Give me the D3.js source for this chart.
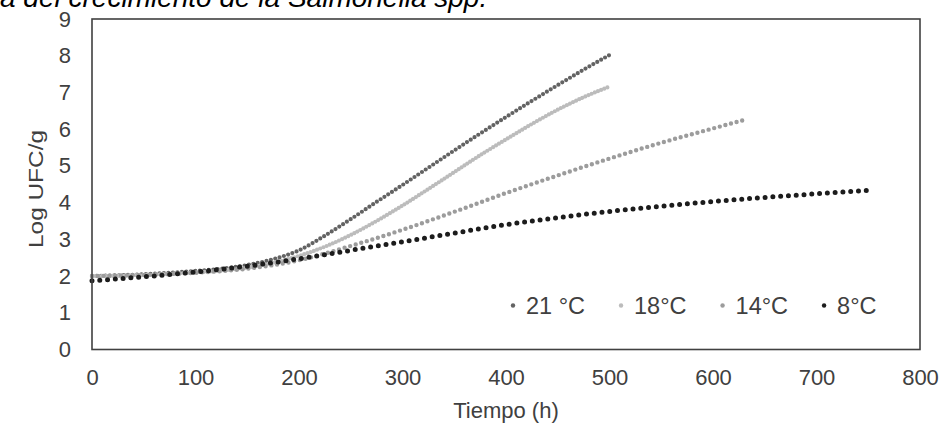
<!DOCTYPE html>
<html lang="es">
<head>
  <meta charset="UTF-8" />
  <title>Crecimiento de Salmonella spp.</title>
  <script src="https://d3js.org/d3.v7.min.js"></script>
  <style>
    body {
      margin: 0;
      background: #ffffff;
      overflow: hidden;
    }
    text {
      font-family: 'Liberation Sans', Arial, sans-serif;
      fill: #404040;
    }
    .title {
      font-style: italic;
      fill: #000000;
    }
  </style>
</head>
<body>
  <div id="chart"></div>

  <script>
    // readings (time in h, Log UFC/g)
    const times21 = [0, 25, 50, 75, 100, 125, 150, 175, 200, 225, 250, 275, 300, 325, 350, 375, 400, 425, 450, 475, 500];
    const log21 = [2.00, 2.02, 2.05, 2.09, 2.14, 2.20, 2.30, 2.46, 2.70, 3.10, 3.55, 4.02, 4.48, 4.95, 5.42, 5.88, 6.33, 6.77, 7.20, 7.62, 8.02];

    const times18 = [0, 25, 50, 75, 100, 125, 150, 175, 200, 225, 250, 275, 300, 325, 350, 375, 400, 425, 450, 475, 500];
    const log18 = [2.00, 2.01, 2.03, 2.06, 2.10, 2.15, 2.23, 2.36, 2.55, 2.80, 3.12, 3.50, 3.92, 4.37, 4.83, 5.29, 5.72, 6.14, 6.53, 6.87, 7.16];

    const times14 = [0, 50, 100, 150, 200, 250, 300, 350, 400, 450, 500, 550, 600, 630];
    const log14 = [2.00, 2.03, 2.09, 2.20, 2.43, 2.82, 3.26, 3.75, 4.26, 4.74, 5.20, 5.63, 6.02, 6.25];

    const times8 = [0, 50, 100, 150, 200, 250, 300, 350, 400, 450, 500, 550, 600, 650, 700, 750];
    const log8 = [1.87, 1.98, 2.11, 2.27, 2.47, 2.70, 2.93, 3.17, 3.40, 3.59, 3.76, 3.90, 4.03, 4.14, 4.24, 4.33];

    const seriesNames = ["21 °C", "18°C", "14°C", "8°C"];
    const xTicks = [0, 100, 200, 300, 400, 500, 600, 700, 800];
    const yTicks = [0, 1, 2, 3, 4, 5, 6, 7, 8, 9];

    const width = 946;
    const height = 423;
    const margin = { top: 19, right: 26, bottom: 73.5, left: 92 };

    // how each series is drawn: colour, dot size, dot spacing
    const styles = [
      { color: "#636363", size: 4.2, gap: 4.5 },
      { color: "#bcbcbc", size: 4.2, gap: 3.4 },
      { color: "#9c9c9c", size: 4.4, gap: 5.8 },
      { color: "#1c1c1c", size: 5.0, gap: 7.8 }
    ];

    const series = [
      { name: seriesNames[0], values: times21.map((t, i) => [t, log21[i]]) },
      { name: seriesNames[1], values: times18.map((t, i) => [t, log18[i]]) },
      { name: seriesNames[2], values: times14.map((t, i) => [t, log14[i]]) },
      { name: seriesNames[3], values: times8.map((t, i) => [t, log8[i]]) }
    ];

    const svg = d3.select("#chart").append("svg")
      .attr("width", width)
      .attr("height", height);

    const x = d3.scaleLinear()
      .domain([0, 800])
      .range([margin.left, width - margin.right]);

    const y = d3.scaleLinear()
      .domain([0, 9])
      .range([height - margin.bottom, margin.top]);

    // title line, cut off at the top like in the source
    svg.append("text")
      .attr("class", "title")
      .attr("x", 0)
      .attr("y", 7)
      .style("font-size", "28px")
      .text("a del crecimiento de la Salmonella spp.");

    // axes (labels only)
    const xAxis = svg.append("g")
      .attr("transform", `translate(0,${height - margin.bottom})`)
      .call(d3.axisBottom(x).tickValues(xTicks).tickSize(0).tickPadding(20));

    const yAxis = svg.append("g")
      .attr("transform", `translate(${margin.left},0)`)
      .call(d3.axisLeft(y).tickValues(yTicks).tickSize(0).tickPadding(21));

    [xAxis, yAxis].forEach(g => {
      g.select(".domain").remove();
      g.selectAll("text")
        .style("font-size", "22px")
        .style("font-family", "'Liberation Sans', Arial, sans-serif")
        .attr("fill", "#404040");
    });

    // curves drawn as rows of round dots
    const line = d3.line()
      .x(d => x(d[0]))
      .y(d => y(d[1]))
      .curve(d3.curveMonotoneX);

    svg.append("g")
      .selectAll("path")
      .data(series)
      .join("path")
      .attr("d", d => line(d.values))
      .attr("fill", "none")
      .attr("stroke", (d, i) => styles[i].color)
      .attr("stroke-width", (d, i) => styles[i].size)
      .attr("stroke-linecap", "round")
      .attr("stroke-dasharray", (d, i) => `0 ${styles[i].gap}`);

    // plot frame
    svg.append("rect")
      .attr("x", x(0))
      .attr("y", y(9))
      .attr("width", x(800) - x(0))
      .attr("height", y(0) - y(9))
      .attr("fill", "none")
      .attr("stroke", "#404040")
      .attr("stroke-width", 1.6);

    // legend inside the plot
    const legend = svg.append("g")
      .attr("transform", `translate(513,${y(1.2)})`);

    let lx = 0;
    series.forEach((s, i) => {
      const item = legend.append("g").attr("transform", `translate(${lx},0)`);
      item.append("circle")
        .attr("r", 2.2)
        .attr("fill", styles[i].color);
      const t = item.append("text")
        .attr("x", 13)
        .attr("dy", "0.35em")
        .style("font-size", "23.5px")
        .text(s.name);
      lx += 13 + t.node().getComputedTextLength() + 36;
    });

    // axis titles
    svg.append("text")
      .attr("x", (x(0) + x(800)) / 2)
      .attr("y", 410)
      .attr("text-anchor", "middle")
      .attr("dy", "0.35em")
      .style("font-size", "22px")
      .text("Tiempo (h)");

    svg.append("text")
      .attr("transform", `translate(36,189) rotate(-90)`)
      .attr("text-anchor", "middle")
      .attr("dy", "0.35em")
      .attr("textLength", 118)
      .attr("lengthAdjust", "spacingAndGlyphs")
      .style("font-size", "21px")
      .text("Log UFC/g");
  </script>
</body>
</html>
